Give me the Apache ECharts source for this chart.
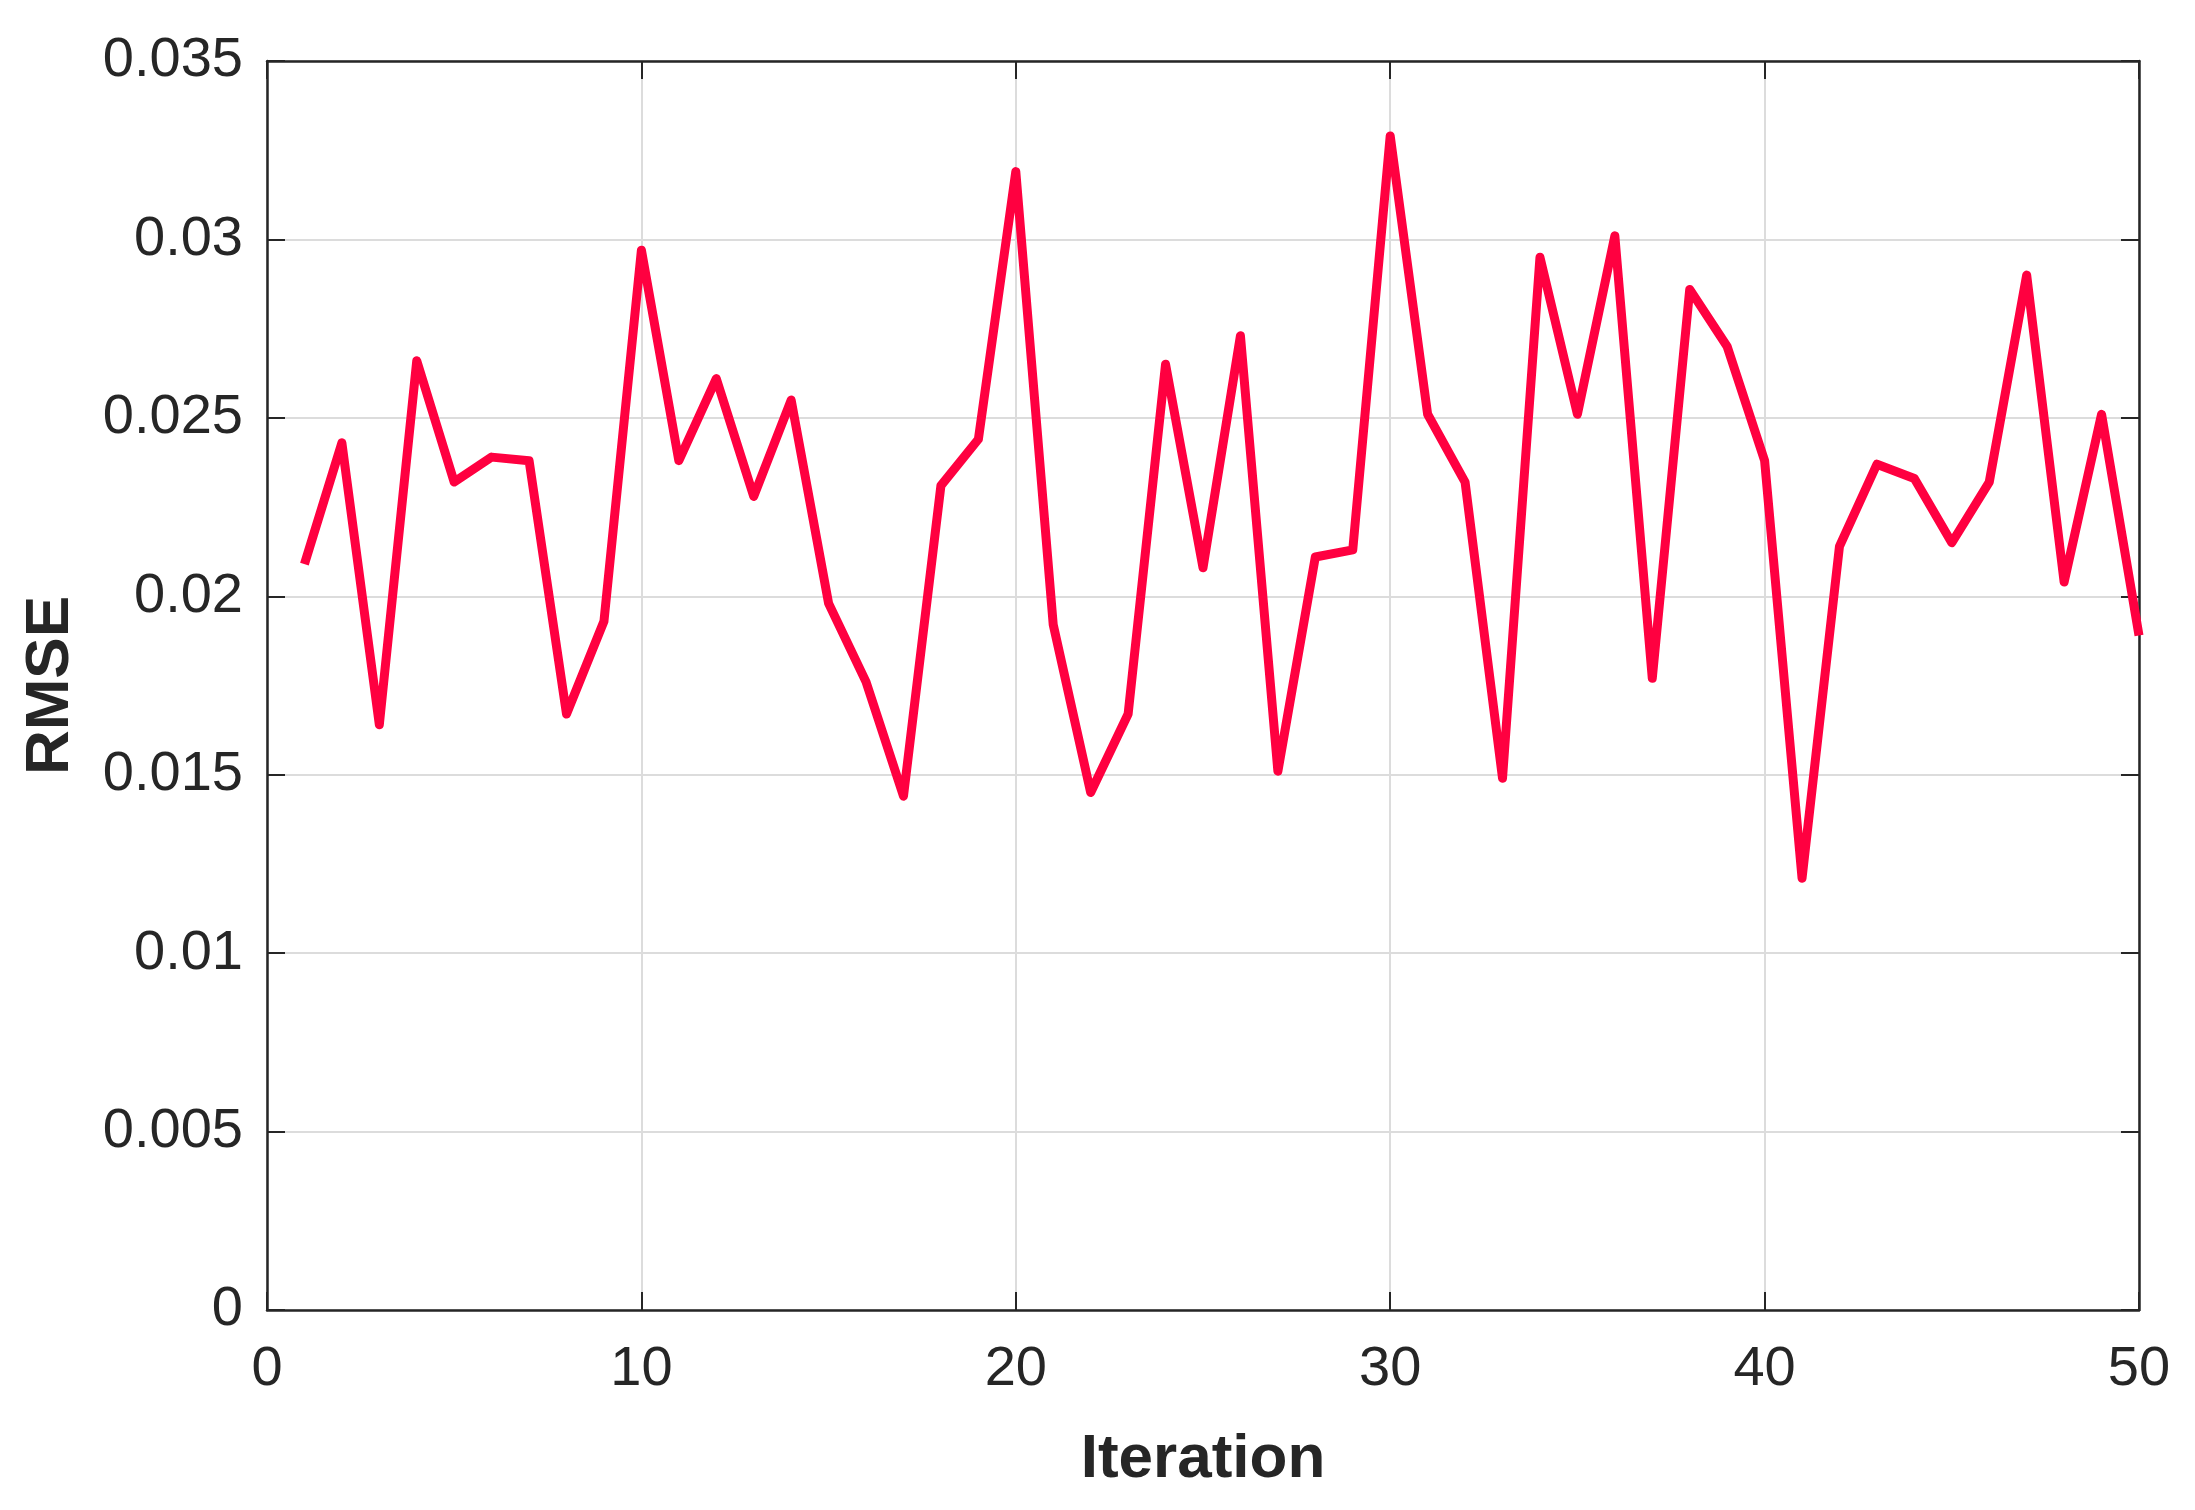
<!DOCTYPE html>
<html>
<head>
<meta charset="utf-8">
<script src="https://cdn.jsdelivr.net/npm/echarts@6/dist/echarts.min.js"></script>
<style>
html,body{margin:0;padding:0;background:#fff;}
#chart{width:2195px;height:1510px;}
</style>
</head>
<body>
<div id="chart"></div>
<script>
const iterations = [1,2,3,4,5,6,7,8,9,10,11,12,13,14,15,16,17,18,19,20,21,22,23,24,25,26,27,28,29,30,31,32,33,34,35,36,37,38,39,40,41,42,43,44,45,46,47,48,49,50];
const rmse = [0.0209,0.0243,0.0164,0.0266,0.0232,0.0239,0.0238,0.0167,0.0193,0.0297,
              0.0238,0.0261,0.0228,0.0255,0.0198,0.0176,0.0144,0.0231,0.0244,0.0319,
              0.0192,0.0145,0.0167,0.0265,0.0208,0.0273,0.0151,0.0211,0.0213,0.0329,
              0.0251,0.0232,0.0149,0.0295,0.0251,0.0301,0.0177,0.0286,0.0270,0.0238,
              0.0121,0.0214,0.0237,0.0233,0.0215,0.0232,0.0290,0.0204,0.0251,0.0189];
const xTicks = [0,10,20,30,40,50];
const yTicks = [0,0.005,0.01,0.015,0.02,0.025,0.03,0.035];
const xName = 'Iteration';
const yName = 'RMSE';

const FONT = "'Liberation Sans', Arial, Helvetica, sans-serif";
const INK = '#262626';
const chart = echarts.init(document.getElementById('chart'), null, {renderer:'canvas'});

const axisLineStyle = {show:true, onZero:false, lineStyle:{color:INK, width:2.5}};
const tickStyle = {show:true, inside:true, length:18, lineStyle:{color:INK, width:2}};
const gridStyle = {show:true, lineStyle:{color:'#dcdcdc', width:2}};

chart.setOption({
  animation:false,
  backgroundColor:'#ffffff',
  grid:{left:267, right:56, top:61, bottom:200, containLabel:false},
  xAxis:[
    {type:'value', min:xTicks[0], max:xTicks[xTicks.length-1], interval:10, position:'bottom',
     axisLine:axisLineStyle, axisTick:tickStyle, splitLine:gridStyle,
     axisLabel:{show:true, fontSize:56, color:INK, fontFamily:FONT, margin:32},
     name:xName, nameLocation:'middle', nameGap:119,
     nameTextStyle:{fontSize:62, fontWeight:'bold', color:INK, fontFamily:FONT}},
    {type:'value', min:xTicks[0], max:xTicks[xTicks.length-1], interval:10, position:'top',
     axisLine:axisLineStyle, axisTick:tickStyle, splitLine:{show:false},
     axisLabel:{show:false}}
  ],
  yAxis:[
    {type:'value', min:yTicks[0], max:yTicks[yTicks.length-1], interval:0.005, position:'left',
     axisLine:axisLineStyle, axisTick:tickStyle, splitLine:gridStyle,
     axisLabel:{show:true, fontSize:56, color:INK, fontFamily:FONT, margin:24,
       formatter:function(v){ return String(parseFloat(v.toFixed(3))); }},
     name:yName, nameLocation:'middle', nameGap:185, nameRotate:90,
     nameTextStyle:{fontSize:62, fontWeight:'bold', color:INK, fontFamily:FONT}},
    {type:'value', min:yTicks[0], max:yTicks[yTicks.length-1], interval:0.005, position:'right',
     axisLine:axisLineStyle, axisTick:tickStyle, splitLine:{show:false},
     axisLabel:{show:false}}
  ],
  series:[{
    type:'line',
    data: iterations.map((x,i)=>[x, rmse[i]]),
    showSymbol:false,
    symbol:'none',
    lineStyle:{color:'#ff0040', width:9, join:'round'},
    z:5
  }]
});
</script>
</body>
</html>
